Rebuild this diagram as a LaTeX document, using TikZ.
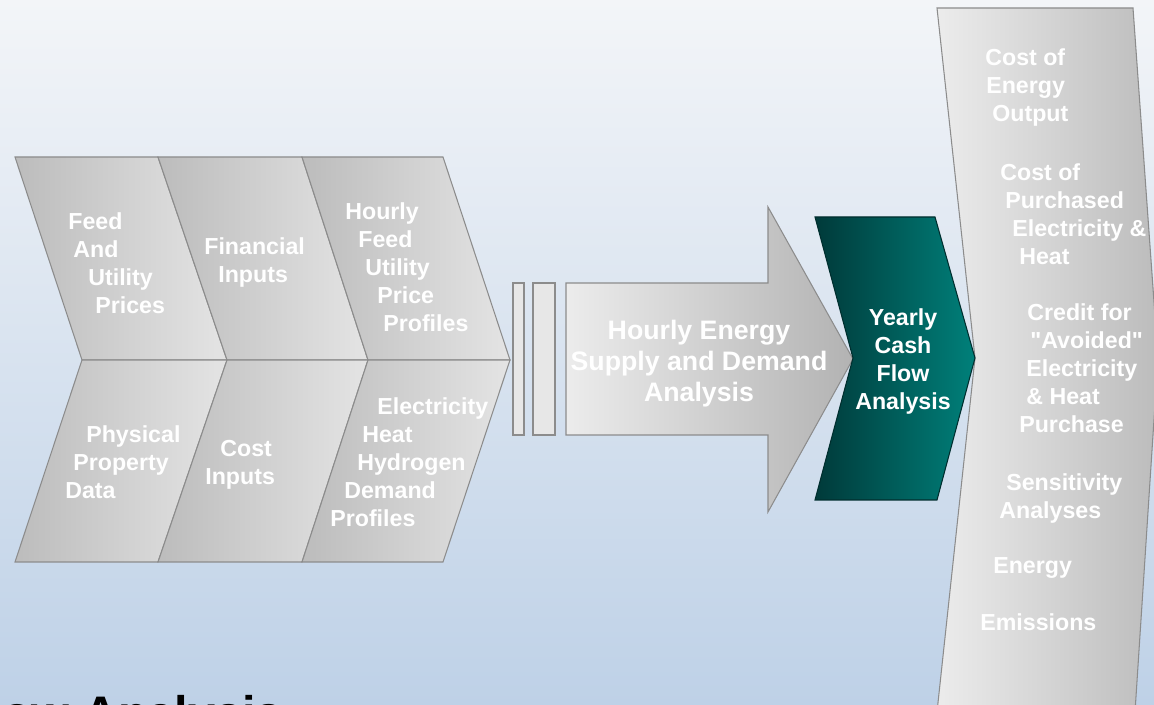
\documentclass[tikz,border=0pt]{standalone}
\usepackage{fontspec}
\setmainfont{Liberation Sans}
\newfontfamily\quotefont{Liberation Sans}
\usetikzlibrary{positioning}
\definecolor{bgtop}{RGB}{243,245,248}
\definecolor{bgbottom}{RGB}{190,209,231}
\definecolor{celldark}{RGB}{188,188,188}
\definecolor{celllight}{RGB}{228,228,228}
\definecolor{cellline}{RGB}{140,140,140}
\definecolor{tealdark}{RGB}{0,58,58}
\definecolor{teallight}{RGB}{0,128,122}
\tikzstyle{cell} = [left color=celldark, right color=celllight, draw=cellline, line width=0.6pt]
\tikzstyle{bar} = [fill=celllight!90!white, draw=cellline, line width=0.6pt]
\tikzstyle{bigarrow} = [left color=celllight!70!white, right color=celldark!95!black, draw=cellline, line width=0.6pt]
\tikzstyle{results} = [left color=celllight!70!white, right color=celldark, draw=cellline, line width=0.6pt]
\tikzstyle{cashflow} = [left color=tealdark, right color=teallight, draw=tealdark!80!black, line width=0.6pt]
\tikzstyle{celltext} = [text=white, font=\fontsize{13.2}{16}\selectfont\bfseries, align=left, anchor=north west, inner sep=0pt]

\begin{document}
\begin{tikzpicture}[x=0.02cm, y=-0.02cm]
\clip (0,0) rectangle (1154,705);
\shade[top color=bgtop, bottom color=bgbottom] (0,0) rectangle (1154,705);

% Input chevrons
\shade[cell] (15,157) -- (158,157) -- (227,360) -- (82,360) -- cycle;
\shade[cell] (158,157) -- (302,157) -- (368,360) -- (227,360) -- cycle;
\shade[cell] (302,157) -- (443,157) -- (510,360) -- (368,360) -- cycle;
\shade[cell] (82,360) -- (227,360) -- (158,562) -- (15,562) -- cycle;
\shade[cell] (227,360) -- (368,360) -- (302,562) -- (158,562) -- cycle;
\shade[cell] (368,360) -- (510,360) -- (443,562) -- (302,562) -- cycle;

\node[celltext] (prices) at (68,212) {Feed\\\hspace*{1mm}And\\\hspace*{4mm}Utility\\\hspace*{5.4mm}Prices};
\node[celltext] (financial) at (204,237) {Financial\\\hspace*{2.8mm}Inputs};
\node[celltext] (profiles) at (345,202) {Hourly\\\hspace*{2.6mm}Feed\\\hspace*{4mm}Utility\\\hspace*{6.4mm}Price\\\hspace*{7.6mm}Profiles};
\node[celltext] (physical) at (65,425) {\hspace*{4.2mm}Physical\\\hspace*{1.6mm}Property\\Data};
\node[celltext] (cost) at (205,440) {\hspace*{3mm}Cost\\Inputs};
\node[celltext] (demand) at (330,397) {\hspace*{9.4mm}Electricity\\\hspace*{6.4mm}Heat\\\hspace*{5.4mm}Hydrogen\\\hspace*{2.8mm}Demand\\Profiles};

% Hourly analysis
\draw[bar] (513,283) rectangle (524,435);
\draw[bar] (533,283) rectangle (555,435);
\shade[bigarrow] (566,283) -- (768,283) -- (768,207) -- (853,359) -- (768,512) -- (768,435) -- (566,435) -- cycle;
\node[celltext, font=\fontsize{15.2}{17.6}\selectfont\bfseries, align=center, anchor=north] (hourly) at (699,320) {Hourly Energy\\Supply and Demand\\Analysis};

% Results panel
\shade[results] (937,8) -- (1133,8) -- (1158,358) -- (1135,712) -- (937,712) -- (975,358) -- cycle;

% Yearly cash flow
\shade[cashflow] (815,217) -- (935,217) -- (975,358) -- (937,500) -- (815,500) -- (853,358) -- cycle;
\node[celltext, align=center, anchor=north] (yearly) at (903,308) {Yearly\\Cash\\Flow\\Analysis};

\node[celltext] (energycost) at (985,48) {Cost of\\\hspace*{0.2mm}Energy\\\hspace*{1.4mm}Output};
\node[celltext] (purchased) at (1000,163) {Cost of\\\hspace*{1mm}Purchased\\\hspace*{2.4mm}Electricity \&\\\hspace*{3.8mm}Heat};
\node[celltext] (credit) at (1019,303) {\hspace*{1.6mm}Credit for\\\hspace*{2.2mm}{\quotefont"Avoided"}\\\hspace*{1.4mm}Electricity\\\hspace*{1.4mm}\& Heat\\Purchase};
\node[celltext] (sensitivity) at (999,473) {\hspace*{1.4mm}Sensitivity\\Analyses};
\node[celltext] (energy) at (993,557) {Energy};
\node[celltext] (emissions) at (980,613) {Emissions};

\node[anchor=base west, inner sep=0pt, font=\fontsize{27.6}{30}\selectfont\bfseries] (title) at (2,731) {ow Analysis};
\end{tikzpicture}
\end{document}
